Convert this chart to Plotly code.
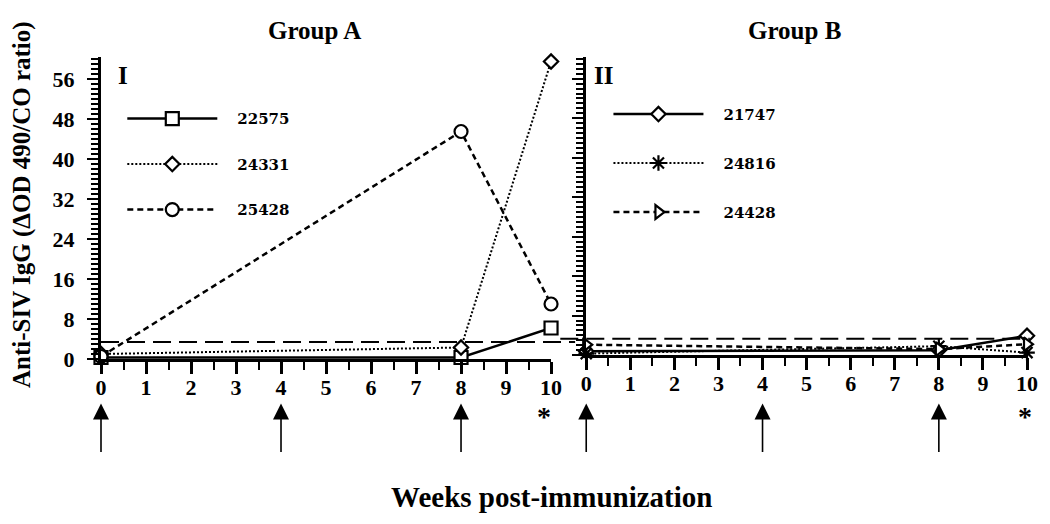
import plotly.graph_objects as go

# ---------------- data ----------------
weeks = [0, 8, 10]
group_a_names = ["22575", "24331", "25428"]
group_a_values = {
    "22575": [0.3, 0.3, 6.2],
    "24331": [1.0, 2.3, 59.5],
    "25428": [0.5, 45.5, 11.0],
}
group_b_names = ["21747", "24816", "24428"]
group_b_values = {
    "21747": [0.8, 1.0, 3.9],
    "24816": [0.3, 1.8, 0.5],
    "24428": [2.1, 1.2, 2.2],
}
cutoff_a = 3.4
cutoff_b = 3.3
immunization_weeks = [0, 4, 8]
sampling_week = 10
y_tick_step = 8
y_minor_step = 1
x_tick_step = 1
x_minor_step = 0.5
x_range = [0, 10]
y_range = [0, 60.4]

# ---------------- styles ----------------
SERIF = "Liberation Serif"
styles = {
    "22575": dict(symbol="square", size=13, dash="solid", width=2.5, fill="white"),
    "24331": dict(symbol="diamond", size=11, dash="2px,2px", width=2, fill="white"),
    "25428": dict(symbol="circle", size=13, dash="6px,4px", width=2.5, fill="white"),
    "21747": dict(symbol="diamond", size=11, dash="solid", width=2.5, fill="white"),
    "24816": dict(symbol="asterisk-open", size=13, dash="2px,2px", width=2, fill="black"),
    "24428": dict(symbol="triangle-right", size=12, dash="6px,4px", width=2.5, fill="white"),
}

fig = go.Figure()

LEGEND_PAD = "\u2003"

def add_series(name, vals, xa, ya, legend):
    s = styles[name]
    fig.add_trace(go.Scatter(
        x=weeks, y=vals, name=LEGEND_PAD + name, mode="lines+markers",
        xaxis=xa, yaxis=ya, legend=legend, legendgroup=name,
        cliponaxis=False,
        line=dict(color="black", width=s["width"], dash=s["dash"]),
        marker=dict(symbol=s["symbol"], size=s["size"], color=s["fill"],
                    line=dict(color="black", width=2.2)),
    ))

for n in group_a_names:
    add_series(n, group_a_values[n], "x", "y", "legend")
for n in group_b_names:
    add_series(n, group_b_values[n], "x2", "y2", "legend2")

axis_font = dict(family=SERIF, size=22, color="black", weight="bold")

xcommon = dict(range=x_range, tickmode="linear", tick0=0, dtick=x_tick_step,
               ticks="outside", ticklen=12,
               tickwidth=2.5, tickcolor="black", showline=True, linewidth=3,
               linecolor="black", showgrid=False, zeroline=False,
               tickfont=axis_font, automargin=False, ticklabelstandoff=-5,
               minor=dict(ticks="outside", ticklen=8, tickwidth=2.2, tickcolor="black",
                          dtick=x_minor_step, tick0=0, showgrid=False))
ycommon = dict(range=y_range, tickmode="linear", tick0=0, dtick=y_tick_step,
               ticks="outside", ticklen=11,
               tickwidth=2.4, tickcolor="black", showline=True, linewidth=3,
               linecolor="black", showgrid=False, zeroline=False,
               tickfont=axis_font, automargin=False,
               minor=dict(ticks="outside", ticklen=7, tickwidth=1.6, tickcolor="black",
                          dtick=y_minor_step, tick0=0, showgrid=False))

legend_common = dict(
    font=dict(family="DejaVu Serif", size=15, color="black", weight="bold"),
    bgcolor="rgba(0,0,0,0)", borderwidth=0, itemwidth=90,
    traceorder="grouped", xanchor="left", yanchor="top",
    itemclick=False, itemdoubleclick=False,
)

# the page body adds an 8px offset; the figure is sized to fill the rest
fig.update_layout(
    width=1042, height=516,
    margin=dict(l=93, r=23, t=49, b=165),
    paper_bgcolor="white", plot_bgcolor="white",
    font=dict(family=SERIF, color="black"),
    xaxis=dict(domain=[0, 0.486], anchor="y", **xcommon),
    xaxis2=dict(domain=[0.524, 1], anchor="y2", **xcommon),
    yaxis=dict(domain=[0, 1], anchor="x", ticklabelstandoff=8, **ycommon),
    yaxis2=dict(domain=[0.013, 1], anchor="x2", showticklabels=False, **ycommon),
    legend=dict(x=0.023, y=0.85, tracegroupgap=23, **legend_common),
    legend2=dict(x=0.548, y=0.865, tracegroupgap=26.5, **legend_common),
    showlegend=True,
)

# cutoff lines
fig.add_shape(type="line", xref="paper", yref="y", x0=0, x1=0.512,
              y0=cutoff_a, y1=cutoff_a,
              line=dict(color="black", width=2, dash="18px,8px"))
fig.add_shape(type="line", xref="paper", yref="y2", x0=0.496, x1=1.003,
              y0=cutoff_b, y1=cutoff_b,
              line=dict(color="black", width=2, dash="18px,8px"))

ann = []
# immunization arrows and sampling asterisks
for xr in ["x", "x2"]:
    for w in immunization_weeks:
        ann.append(dict(x=w, y=-0.147, xref=xr, yref="paper", text="",
                        showarrow=True, ax=0, ay=50, arrowhead=2,
                        arrowsize=2.0, arrowwidth=1.6, arrowcolor="black"))
    ann.append(dict(x=sampling_week, y=-0.19, xref=xr, yref="paper", text="*",
                    showarrow=False, xshift=-7 if xr == "x" else -2,
                    xanchor="center", yanchor="middle",
                    font=dict(family=SERIF, size=28, color="black", weight="bold")))

title_font = lambda s: dict(family=SERIF, size=s, color="black", weight="bold")
ann += [
    dict(x=0.231, y=1.089, xref="paper", yref="paper", text="Group A",
         xanchor="center", yanchor="middle", showarrow=False, font=title_font(25)),
    dict(x=0.749, y=1.089, xref="paper", yref="paper", text="Group B",
         xanchor="center", yanchor="middle", showarrow=False, font=title_font(25)),
    dict(x=0.0238, y=0.94, xref="paper", yref="paper", text="I",
         xanchor="center", yanchor="middle", showarrow=False, font=title_font(25)),
    dict(x=0.543, y=0.94, xref="paper", yref="paper", text="II",
         xanchor="center", yanchor="middle", showarrow=False, font=title_font(25)),
    dict(x=0.487, y=-0.457, xref="paper", yref="paper", text="Weeks post-immunization",
         xanchor="center", yanchor="middle", showarrow=False, font=title_font(29)),
    dict(x=-0.0853, y=0.51, xref="paper", yref="paper",
         text="Anti-SIV IgG (ΔOD 490/CO ratio)", textangle=-90,
         xanchor="center", yanchor="middle", showarrow=False, font=title_font(25)),
]
fig.update_layout(annotations=ann)

fig.write_html("out.html")
